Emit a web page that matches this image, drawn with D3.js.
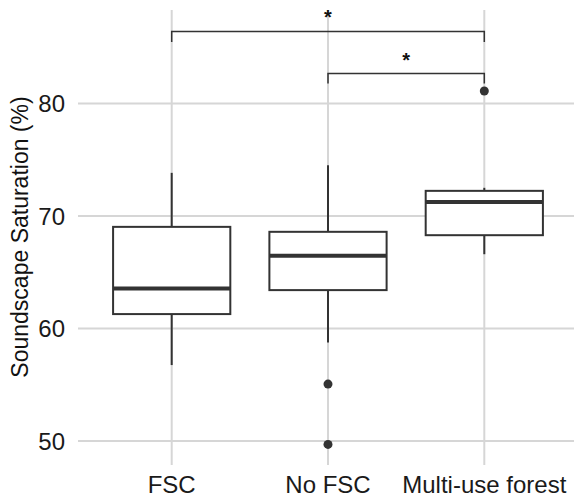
<!DOCTYPE html>
<html>
<head>
<meta charset="utf-8">
<script src="https://cdn.jsdelivr.net/npm/d3@7"></script>
<style>
  body { margin: 0; background: #fff; }
  text { font-family: "Liberation Sans", Arial, sans-serif; }
</style>
</head>
<body>
<svg id="chart" width="574" height="500"></svg>
<script>
// boxplot of soundscape saturation per forest type
var categories = ['FSC', 'No FSC', 'Multi-use forest'];
var whiskerLow = [56.75, 58.75, 66.6];
var q1 = [61.28, 63.41, 68.29];
var median = [63.56, 66.46, 71.25];
var q3 = [69.03, 68.59, 72.23];
var whiskerHigh = [73.83, 74.51, 72.5];
var outliers = [[], [55.06, 49.7], [81.1]];
var yTicks = [50, 60, 70, 80];

// significance brackets: from / to category, height, tick end, label
var sigFrom = ['FSC', 'No FSC'];
var sigTo = ['Multi-use forest', 'Multi-use forest'];
var sigY = [86.4, 82.65];
var sigTickY = [85.45, 81.76];
var sigLabel = ['*', '*'];

var width = 574, height = 500;
var panel = {left: 78, right: 578, top: 10, bottom: 465};

var svg = d3.select('#chart');

var x = d3.scalePoint()
    .domain(categories)
    .range([171.7, 484.3]);
var boxW = x.step() * 0.75;

var y = d3.scaleLinear()
    .domain([47.87, 88.3])
    .range([panel.bottom, panel.top]);

var gridColor = '#d6d6d6', ink = '#333333';

// grid
var grid = svg.append('g');
grid.selectAll('line.h')
    .data(yTicks)
    .enter()
    .append('line')
    .attr('class', 'h')
    .attr('x1', panel.left).attr('x2', panel.right)
    .attr('y1', d => y(d)).attr('y2', d => y(d))
    .style('stroke', gridColor).style('stroke-width', 2);
grid.selectAll('line.v')
    .data(categories)
    .enter()
    .append('line')
    .attr('class', 'v')
    .attr('x1', d => x(d)).attr('x2', d => x(d))
    .attr('y1', panel.top).attr('y2', panel.bottom)
    .style('stroke', gridColor).style('stroke-width', 2);

// boxes
var boxes = svg.append('g')
    .selectAll('g')
    .data(categories)
    .enter()
    .append('g')
    .each(function(cat, i){
        var g = d3.select(this), cx = x(cat);
        g.append('line')
         .attr('x1', cx).attr('x2', cx)
         .attr('y1', y(q3[i])).attr('y2', y(whiskerHigh[i]))
         .style('stroke', ink).style('stroke-width', 2);
        g.append('line')
         .attr('x1', cx).attr('x2', cx)
         .attr('y1', y(q1[i])).attr('y2', y(whiskerLow[i]))
         .style('stroke', ink).style('stroke-width', 2);
        g.append('rect')
         .attr('x', cx - boxW/2).attr('width', boxW)
         .attr('y', y(q3[i])).attr('height', y(q1[i]) - y(q3[i]))
         .style('fill', '#fff').style('stroke', ink).style('stroke-width', 2);
        g.append('line')
         .attr('x1', cx - boxW/2).attr('x2', cx + boxW/2)
         .attr('y1', y(median[i])).attr('y2', y(median[i]))
         .style('stroke', ink).style('stroke-width', 4);
        g.selectAll('circle')
         .data(outliers[i])
         .enter()
         .append('circle')
         .attr('cx', cx).attr('cy', d => y(d))
         .attr('r', 4.5)
         .style('fill', ink);
    });

// significance brackets
var sig = svg.append('g')
    .selectAll('g')
    .data(sigLabel)
    .enter()
    .append('g')
    .each(function(lab, i){
        var g = d3.select(this);
        var x1 = x(sigFrom[i]), x2 = x(sigTo[i]);
        g.append('path')
         .attr('d', 'M' + x1 + ',' + y(sigTickY[i]) + 'V' + y(sigY[i]) + 'H' + x2 + 'V' + y(sigTickY[i]))
         .style('fill', 'none').style('stroke', ink).style('stroke-width', 1.5);
        g.append('text')
         .text(lab)
         .attr('x', (x1 + x2)/2)
         .attr('y', y(sigY[i]) - 7)
         .style('text-anchor', 'middle')
         .style('font-size', '20px')
         .style('font-weight', 'bold')
         .style('fill', '#111');
    });

// y tick labels
svg.append('g')
    .selectAll('text')
    .data(yTicks)
    .enter()
    .append('text')
    .text(d => d)
    .attr('x', 65)
    .attr('y', d => y(d))
    .attr('dy', '0.36em')
    .style('text-anchor', 'end')
    .style('font-size', '24px')
    .style('fill', '#1a1a1a');

// x tick labels
svg.append('g')
    .selectAll('text')
    .data(categories)
    .enter()
    .append('text')
    .text(d => d)
    .attr('x', d => x(d))
    .attr('y', 493)
    .style('text-anchor', 'middle')
    .style('font-size', '24px')
    .style('fill', '#1a1a1a');

// y title
svg.append('text')
    .text('Soundscape Saturation (%)')
    .attr('transform', 'translate(28,237) rotate(-90)')
    .style('text-anchor', 'middle')
    .style('font-size', '23px')
    .style('fill', '#111');
</script>
</body>
</html>
